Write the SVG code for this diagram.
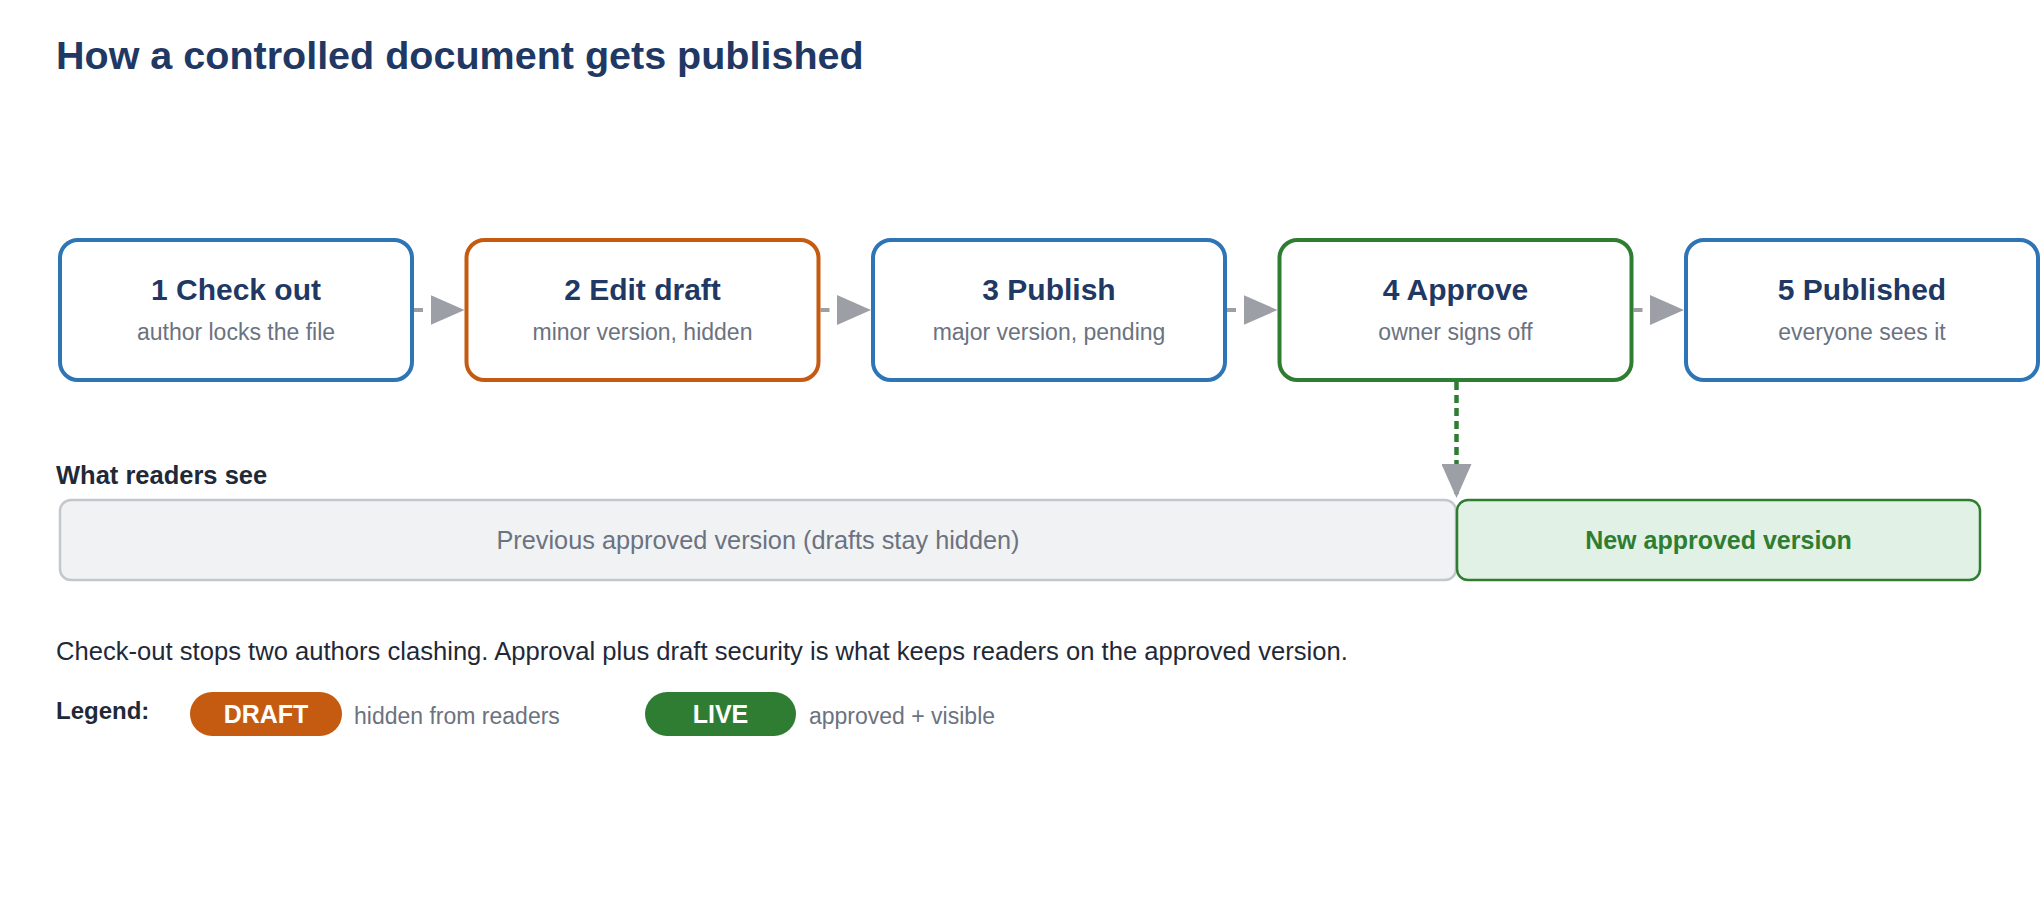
<svg xmlns="http://www.w3.org/2000/svg" width="2040" height="900" viewBox="0 0 2040 900">
<defs>
<style>
text{font-family:"Liberation Sans",Arial,sans-serif}
.title{font-size:39.5px;font-weight:bold;fill:#1f3864}
.box{fill:#ffffff;stroke-width:4}
.blue{stroke:#2e75b6}
.orange{stroke:#c55a11}
.green{stroke:#2e7d32}
.bt{font-size:30px;font-weight:bold;fill:#1f3864;text-anchor:middle}
.bs{font-size:23px;fill:#6b7280;text-anchor:middle}
.flow{fill:none;stroke:#9ca0a6;stroke-width:4;stroke-dasharray:9 8}
.down{fill:none;stroke:#2e7d32;stroke-width:4.5;stroke-dasharray:8 5}
.label{font-size:25.5px;font-weight:bold;fill:#1f2937}
.leglabel{font-size:24px;font-weight:bold;fill:#1f2937}
.para{font-size:25.6px;fill:#1f2937}
.leg{font-size:23px;fill:#6b7280}
.pill{font-size:25px;font-weight:bold;fill:#ffffff;text-anchor:middle}
</style>
<marker id="ah" markerUnits="userSpaceOnUse" markerWidth="34" markerHeight="30" refX="34" refY="15" orient="auto">
<path d="M0,0 L34,15 L0,30 Z" fill="#9ca0a6"/>
</marker>
</defs>
<rect width="2040" height="900" fill="#ffffff"/>
<text class="title" x="56" y="69">How a controlled document gets published</text>

<g id="connectors">
<line class="flow" x1="414" y1="310" x2="464.5" y2="310" marker-end="url(#ah)"/>
<line class="flow" x1="820.5" y1="310" x2="871" y2="310" marker-end="url(#ah)"/>
<line class="flow" x1="1227" y1="310" x2="1277.5" y2="310" marker-end="url(#ah)"/>
<line class="flow" x1="1633.5" y1="310" x2="1684" y2="310" marker-end="url(#ah)"/>
<line class="down" x1="1456.5" y1="382" x2="1456.5" y2="498" marker-end="url(#ah)"/>
</g>

<g id="node1">
<rect class="box blue" x="60" y="240" width="352" height="140" rx="18"/>
<text class="bt" x="236" y="300">1 Check out</text>
<text class="bs" x="236" y="340">author locks the file</text>
</g>
<g id="node2">
<rect class="box orange" x="466.5" y="240" width="352" height="140" rx="18"/>
<text class="bt" x="642.5" y="300">2 Edit draft</text>
<text class="bs" x="642.5" y="340">minor version, hidden</text>
</g>
<g id="node3">
<rect class="box blue" x="873" y="240" width="352" height="140" rx="18"/>
<text class="bt" x="1049" y="300">3 Publish</text>
<text class="bs" x="1049" y="340">major version, pending</text>
</g>
<g id="node4">
<rect class="box green" x="1279.5" y="240" width="352" height="140" rx="18"/>
<text class="bt" x="1455.5" y="300">4 Approve</text>
<text class="bs" x="1455.5" y="340">owner signs off</text>
</g>
<g id="node5">
<rect class="box blue" x="1686" y="240" width="352" height="140" rx="18"/>
<text class="bt" x="1862" y="300">5 Published</text>
<text class="bs" x="1862" y="340">everyone sees it</text>
</g>

<text class="label" x="56" y="484">What readers see</text>
<g id="previous">
<rect x="60" y="500" width="1396" height="80" rx="11" fill="#f1f2f4" stroke="#c3c6cb" stroke-width="2.5"/>
<text x="758" y="549" font-size="25.3" fill="#6b7280" text-anchor="middle">Previous approved version (drafts stay hidden)</text>
</g>
<g id="newversion">
<rect x="1457" y="500" width="523" height="80" rx="11" fill="#e2f1e5" stroke="#2e7d32" stroke-width="2.5"/>
<text x="1718.5" y="549" font-size="25" font-weight="bold" fill="#2e7d32" text-anchor="middle">New approved version</text>
</g>

<text class="para" x="56" y="660">Check-out stops two authors clashing. Approval plus draft security is what keeps readers on the approved version.</text>

<g id="legend">
<text class="leglabel" x="56" y="719">Legend:</text>
<rect x="190" y="692" width="152" height="44" rx="22" fill="#c55a11"/>
<text class="pill" x="266" y="723">DRAFT</text>
<text class="leg" x="354" y="724">hidden from readers</text>
<rect x="645" y="692" width="151" height="44" rx="22" fill="#2e7d32"/>
<text class="pill" x="720.5" y="723">LIVE</text>
<text class="leg" x="809" y="724">approved + visible</text>
</g>
</svg>
